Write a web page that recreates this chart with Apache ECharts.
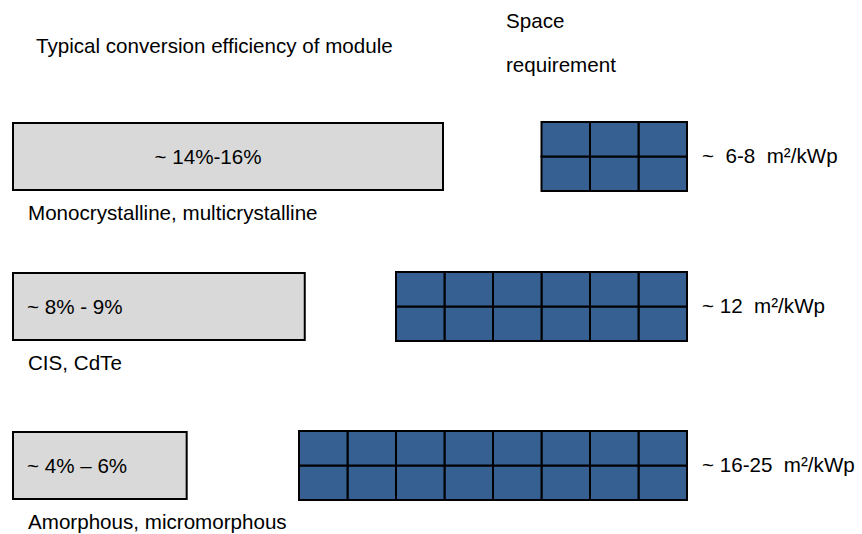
<!DOCTYPE html>
<html><head><meta charset="utf-8">
<script src="https://cdn.jsdelivr.net/npm/echarts@6/dist/echarts.min.js"></script>
<style>html,body{margin:0;padding:0;background:#fff}#c{width:862px;height:534px}</style>
</head><body><div id="c"></div>
<script>
// ---- data ----
const technologies = ['Monocrystalline, multicrystalline', 'CIS, CdTe', 'Amorphous, micromorphous'];
const efficiencyLabels = ['~ 14%-16%', '~ 8% - 9%', '~ 4% \u2013 6%'];
const efficiencyBar = [15, 10.2, 6.1];          // bar length (% efficiency scale)
const moduleColumns = [3, 6, 8];                 // module cells per row
const moduleRows = [2, 2, 2];
const spaceLabels = ['~  6-8  m\u00b2/kWp', '~ 12  m\u00b2/kWp', '~ 16-25  m\u00b2/kWp'];
const headerEfficiency = 'Typical conversion efficiency of module';
const headerSpace = ['Space', 'requirement'];

// ---- layout ----
const FONT = "'Liberation Sans', Arial, sans-serif";
const FS = 20.6;
const rowTop = [122, 272, 431];
const rowH = 69;

const chart = echarts.init(document.getElementById('c'), null, {renderer: 'svg'});

const grids = [], xAxes = [], yAxes = [], series = [], graphics = [];
technologies.forEach((tech, i) => {
  // efficiency grid
  grids.push({left: 12, top: rowTop[i], width: 432, height: rowH});
  xAxes.push({type: 'value', gridIndex: 2 * i, min: 0, max: 15, show: false});
  yAxes.push({type: 'category', gridIndex: 2 * i, data: [tech], show: false});
  // module grid
  grids.push({left: 299, top: rowTop[i], width: 388, height: rowH});
  xAxes.push({type: 'value', gridIndex: 2 * i + 1, min: 0, max: 8, inverse: true, show: false});
  yAxes.push({type: 'value', gridIndex: 2 * i + 1, min: 0, max: 2, show: false});

  series.push({
    type: 'bar', xAxisIndex: 2 * i, yAxisIndex: 2 * i,
    data: [efficiencyBar[i]], barWidth: '100%', silent: true,
    itemStyle: {color: '#D9D9D9', borderColor: '#000', borderWidth: 2},
    label: {
      show: true, formatter: efficiencyLabels[i], color: '#000',
      fontFamily: FONT, fontSize: FS,
      position: i === 0 ? 'inside' : 'insideLeft',
      distance: 15, offset: i === 0 ? [-20, 0] : [0, 0]
    }
  });

  const cells = [];
  for (let c = 0; c < moduleColumns[i]; c++) for (let r = 0; r < moduleRows[i]; r++) cells.push([c, r]);
  series.push({
    type: 'custom', xAxisIndex: 2 * i + 1, yAxisIndex: 2 * i + 1, silent: true,
    data: cells,
    renderItem: (params, api) => {
      const c = api.value(0), r = api.value(1);
      const p1 = api.coord([c, r]), p2 = api.coord([c + 1, r + 1]);
      return {type: 'rect',
        shape: {x: Math.min(p1[0], p2[0]), y: Math.min(p1[1], p2[1]),
                width: Math.abs(p2[0] - p1[0]), height: Math.abs(p2[1] - p1[1])},
        style: {fill: '#366092', stroke: '#000', lineWidth: 2}};
    }
  });

  graphics.push({type: 'text', left: 702, top: rowTop[i] + rowH / 2 - 12,
    style: {text: spaceLabels[i], font: FS + 'px ' + FONT, fill: '#000'}});
  graphics.push({type: 'text', left: 28, top: rowTop[i] + rowH + 11,
    style: {text: tech, font: FS + 'px ' + FONT, fill: '#000'}});
});

graphics.push({type: 'text', left: 36, top: 35, style: {text: headerEfficiency, font: FS + 'px ' + FONT, fill: '#000'}});
graphics.push({type: 'text', left: 506, top: 10, style: {text: headerSpace[0], font: FS + 'px ' + FONT, fill: '#000'}});
graphics.push({type: 'text', left: 506, top: 54, style: {text: headerSpace[1], font: FS + 'px ' + FONT, fill: '#000'}});

chart.setOption({
  animation: false,
  backgroundColor: '#fff',
  grid: grids, xAxis: xAxes, yAxis: yAxes, series: series,
  graphic: graphics
});
</script></body></html>
